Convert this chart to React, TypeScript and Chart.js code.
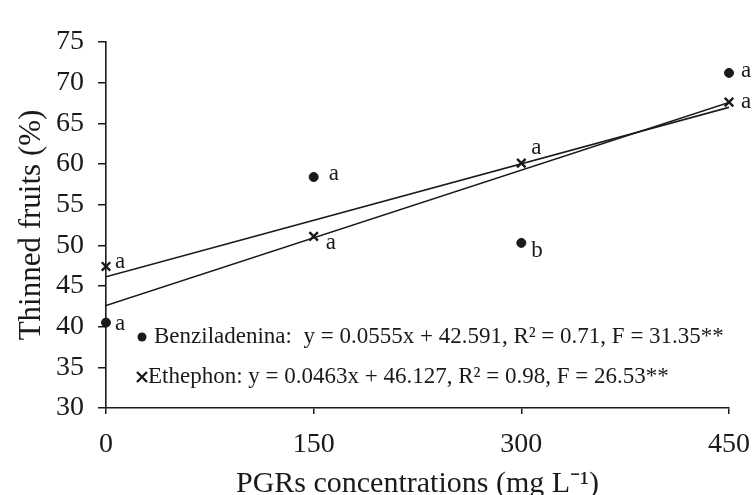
import React, { useEffect, useRef } from "react";
import { Chart, registerables } from "chart.js";

Chart.register(...registerables);

// ---- data ----
const concentrations = [0, 150, 300, 450];
const benziladenina = [40.5, 58.4, 50.3, 71.2];
const ethephon = [47.4, 51.1, 60.1, 67.6];
const benzLetters = ["a", "a", "b", "a"];
const ethLetters = ["a", "a", "a", "a"];
const trendX = [0, 450];
const benzTrend = [42.59, 67.57];
const ethTrend = [46.13, 66.96];
const xTicks = [0, 150, 300, 450];
const benzEquation = "Benziladenina:  y = 0.0555x + 42.591, R² = 0.71, F = 31.35**";
const ethEquation = "Ethephon: y = 0.0463x + 46.127, R² = 0.98, F = 26.53**";
const yTitle = "Thinned fruits (%)";
const xTitle = "PGRs concentrations (mg L⁻¹)";

// ---- style (pixel offsets for labels) ----
const benzLetterOffsets = [[9, 1], [15, -3], [10, 8], [12, -2]];
const ethLetterOffsets = [[9, -5], [12, 7], [10, -15], [12, 0]];
const SERIF = "'Liberation Serif', 'Times New Roman', serif";
const INK = "#1a1a1a";

const annotationPlugin = {
  id: "annotations",
  afterDatasetsDraw(chart: any) {
    const { ctx, scales } = chart;
    const xs = scales.x;
    const ys = scales.y;
    ctx.save();
    ctx.fillStyle = INK;
    ctx.font = `23px ${SERIF}`;
    ctx.textAlign = "left";
    ctx.textBaseline = "middle";
    concentrations.forEach((c, i) => {
      const px = xs.getPixelForValue(c);
      ctx.fillText(benzLetters[i], px + benzLetterOffsets[i][0], ys.getPixelForValue(benziladenina[i]) + benzLetterOffsets[i][1]);
      ctx.fillText(ethLetters[i], px + ethLetterOffsets[i][0], ys.getPixelForValue(ethephon[i]) + ethLetterOffsets[i][1]);
    });
    // equation legend
    const left = chart.chartArea.left;
    const y1 = 337;
    const y2 = 377;
    ctx.beginPath();
    ctx.arc(left + 36, y1, 4.5, 0, Math.PI * 2);
    ctx.fill();
    ctx.strokeStyle = INK;
    ctx.lineWidth = 2.4;
    ctx.beginPath();
    ctx.moveTo(left + 31, y2 - 5);
    ctx.lineTo(left + 41, y2 + 5);
    ctx.moveTo(left + 41, y2 - 5);
    ctx.lineTo(left + 31, y2 + 5);
    ctx.stroke();
    ctx.font = `23px ${SERIF}`;
    ctx.fillText(benzEquation, left + 48, y1);
    ctx.fillText(ethEquation, left + 42, y2);
    ctx.restore();
  },
};

export default function App() {
  const ref = useRef<HTMLCanvasElement | null>(null);
  useEffect(() => {
    if (!ref.current) return;
    const chart = new Chart(ref.current, {
      type: "scatter",
      data: {
        datasets: [
          {
            label: "Benziladenina trend",
            type: "line",
            data: trendX.map((x, i) => ({ x, y: benzTrend[i] })),
            borderColor: INK,
            borderWidth: 1.6,
            pointRadius: 0,
            fill: false,
          },
          {
            label: "Ethephon trend",
            type: "line",
            data: trendX.map((x, i) => ({ x, y: ethTrend[i] })),
            borderColor: INK,
            borderWidth: 1.6,
            pointRadius: 0,
            fill: false,
          },
          {
            label: "Benziladenina",
            data: concentrations.map((x, i) => ({ x, y: benziladenina[i] })),
            pointStyle: "circle",
            pointRadius: 4.5,
            backgroundColor: INK,
            borderColor: INK,
            clip: false,
          },
          {
            label: "Ethephon",
            data: concentrations.map((x, i) => ({ x, y: ethephon[i] })),
            pointStyle: "crossRot",
            pointRadius: 6,
            borderWidth: 2.4,
            backgroundColor: INK,
            borderColor: INK,
            clip: false,
          },
        ],
      },
      options: {
        animation: false,
        responsive: true,
        maintainAspectRatio: false,
        layout: { padding: { top: 42, right: 25, left: 0, bottom: 0 } },
        plugins: { legend: { display: false }, tooltip: { enabled: false } },
        scales: {
          x: {
            type: "linear",
            min: 0,
            max: 450,
            afterBuildTicks: (s: any) => {
              s.ticks = xTicks.map((v) => ({ value: v }));
            },
            afterFit: (s: any) => {
              s.height = 87;
              s.paddingLeft = 0;
              s.paddingRight = 0;
            },
            grid: { drawOnChartArea: false, drawTicks: true, tickLength: 6, color: INK, lineWidth: 1.5 },
            border: { display: true, color: INK, width: 1.6 },
            ticks: { color: INK, font: { family: SERIF, size: 28 }, padding: 14, maxRotation: 0 },
            title: {
              display: true,
              text: xTitle,
              color: INK,
              font: { family: SERIF, size: 30 },
              padding: { top: 0, bottom: -7 },
            },
          },
          y: {
            min: 30,
            max: 75,
            ticks: { stepSize: 5, color: INK, font: { family: SERIF, size: 28 }, padding: 14 },
            afterFit: (s: any) => {
              s.width = 106;
              s.paddingTop = 0;
              s.paddingBottom = 0;
            },
            grid: { drawOnChartArea: false, drawTicks: true, tickLength: 8, color: INK, lineWidth: 1.5 },
            border: { display: true, color: INK, width: 1.6 },
            title: {
              display: true,
              text: yTitle,
              color: INK,
              font: { family: SERIF, size: 31 },
              padding: { top: 13, bottom: 0 },
            },
          },
        },
      },
      plugins: [annotationPlugin],
    } as any);
    return () => chart.destroy();
  }, []);
  return (
    <div style={{ position: "fixed", left: 0, top: 0, width: 754, height: 495, background: "#fff" }}>
      <canvas ref={ref} />
    </div>
  );
}
